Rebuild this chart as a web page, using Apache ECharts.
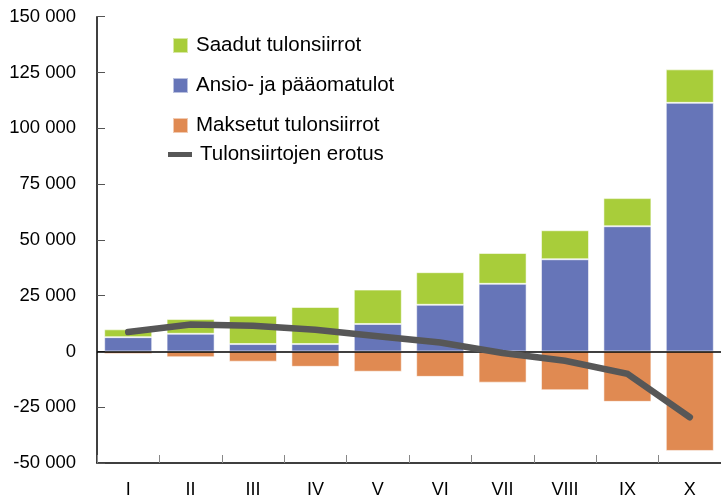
<!DOCTYPE html>
<html>
<head>
<meta charset="utf-8">
<script src="https://cdn.jsdelivr.net/npm/echarts@6/dist/echarts.min.js"></script>
<style>
html,body{margin:0;padding:0;background:#fff;}
#chart{width:721px;height:499px;}
</style>
</head>
<body>
<div id="chart"></div>
<script>
var categories = ['I','II','III','IV','V','VI','VII','VIII','IX','X'];
var saadut = [3500, 6600, 12700, 16600, 15400, 14600, 13800, 13000, 12600, 15000];
var ansio = [6400, 7900, 3300, 3300, 12300, 20900, 30300, 41300, 56100, 111400];
var maksetut = [-1100, -2600, -4600, -6900, -9100, -11400, -14000, -17400, -22600, -44600];
var erotus = [8700, 12100, 11500, 9700, 6800, 4000, -700, -4200, -10000, -29500];
var yTicks = [-50000, 150000, 25000];

var names = ['Saadut tulonsiirrot','Ansio- ja pääomatulot','Maksetut tulonsiirrot','Tulonsiirtojen erotus'];
var font = 'Liberation Sans';
var chart = echarts.init(document.getElementById('chart'));
function fmt(v){ var s = String(Math.abs(v)); if (s.length > 3) s = s.slice(0, s.length-3) + ' ' + s.slice(s.length-3); return (v<0?'-':'') + s; }
var barStyle = function(c){ return {color:c, borderColor:'rgba(255,255,255,0.55)', borderWidth:1}; };
var legendText = {fontFamily:font, fontSize:20.5, color:'#000', padding:[0,0,0,3]};
chart.setOption({
  animation:false,
  grid:{left:97, right:0, top:16.7, bottom:34.7, containLabel:false},
  legend:[{
    data:[names[0], names[1], names[2]],
    icon:'rect', orient:'vertical', left:172, top:35, itemGap:19, padding:0,
    itemWidth:15, itemHeight:15, textStyle:legendText
  },{
    data:[names[3]],
    icon:'rect', orient:'vertical', left:168, top:144, padding:0,
    itemWidth:24, itemHeight:5, textStyle:legendText
  }],
  xAxis:{
    type:'category', data:categories,
    axisLine:{onZero:false, lineStyle:{color:'#000', width:1.5}},
    axisTick:{show:true, inside:true, length:8, alignWithLabel:false, lineStyle:{color:'#888'}},
    axisLabel:{fontFamily:font, fontSize:18, color:'#000', margin:18}
  },
  yAxis:{
    type:'value', min:yTicks[0], max:yTicks[1], interval:yTicks[2],
    splitLine:{show:false},
    axisLine:{show:true, lineStyle:{color:'#000', width:1.5}},
    axisTick:{show:true, inside:true, length:8, lineStyle:{color:'#555'}},
    axisLabel:{fontFamily:font, fontSize:18.5, color:'#000', margin:21, formatter:fmt}
  },
  series:[
    {name:names[1], type:'bar', stack:'s', data:ansio, barWidth:48, itemStyle:barStyle('#6675b8'),
     markLine:{silent:true, symbol:'none', label:{show:false}, lineStyle:{color:'#000', width:1.5, type:'solid'}, data:[{yAxis:0}]}},
    {name:names[0], type:'bar', stack:'s', data:saadut, barWidth:48, itemStyle:barStyle('#a8cd3a')},
    {name:names[2], type:'bar', stack:'s', data:maksetut, barWidth:48, itemStyle:barStyle('#e08a52')},
    {name:names[3], type:'line', data:erotus, showSymbol:false, symbol:'none', z:5,
     lineStyle:{color:'#575757', width:6.5, cap:'round', join:'miter'}, itemStyle:{color:'#575757'}}
  ]
});
</script>
</body>
</html>
